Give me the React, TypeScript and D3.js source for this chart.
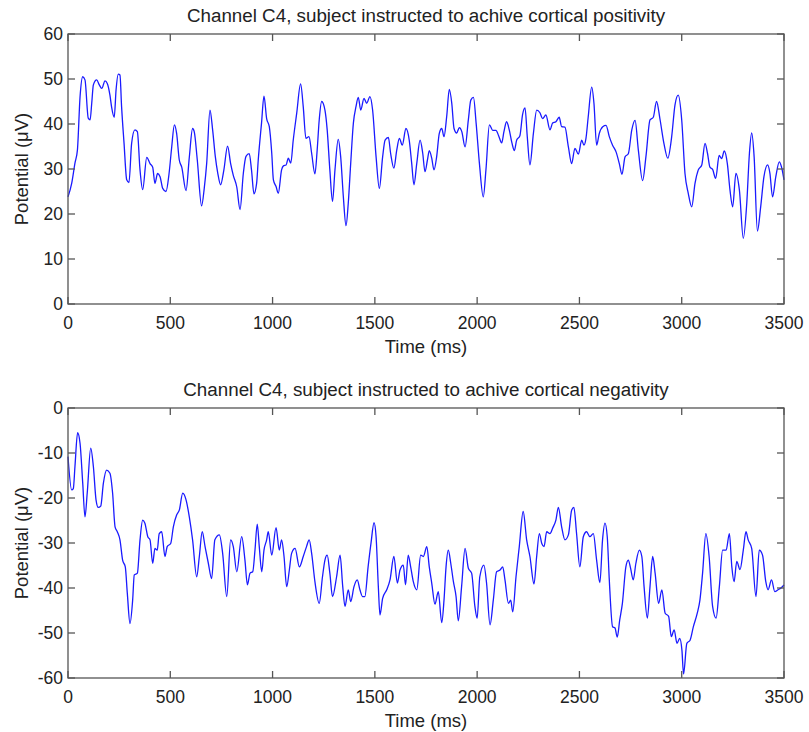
import React, { useEffect, useRef } from 'react';
import * as d3 from 'd3';

// Time stamps (ms) and potential (µV)
const posTime = [0, 18, 34, 46, 59, 72, 83, 99, 108, 116, 124, 140, 153, 165, 181, 192, 205, 213, 226, 235, 246, 254, 262, 274, 287, 298, 311, 327, 339, 352, 365, 385, 401, 414, 425, 438, 450, 463, 479, 494, 507, 520, 531, 544, 556, 577, 593, 609, 617, 632, 653, 666, 678, 694, 707, 720, 732, 746, 762, 780, 795, 808, 825, 841, 857, 870, 886, 897, 909, 922, 930, 946, 958, 971, 984, 996, 1004, 1017, 1028, 1044, 1053, 1066, 1077, 1089, 1101, 1118, 1137, 1150, 1163, 1178, 1191, 1207, 1218, 1228, 1240, 1256, 1267, 1280, 1293, 1305, 1321, 1333, 1346, 1359, 1370, 1382, 1395, 1408, 1419, 1431, 1447, 1460, 1476, 1489, 1506, 1522, 1538, 1550, 1566, 1577, 1593, 1607, 1620, 1634, 1652, 1668, 1680, 1691, 1705, 1721, 1734, 1745, 1757, 1766, 1778, 1789, 1802, 1815, 1827, 1838, 1851, 1864, 1876, 1887, 1900, 1913, 1925, 1941, 1957, 1969, 1982, 1995, 2011, 2030, 2043, 2060, 2076, 2092, 2105, 2120, 2131, 2144, 2157, 2170, 2182, 2193, 2209, 2222, 2234, 2245, 2258, 2275, 2291, 2307, 2320, 2336, 2356, 2369, 2385, 2401, 2413, 2429, 2446, 2462, 2478, 2495, 2511, 2522, 2532, 2543, 2560, 2571, 2584, 2597, 2614, 2630, 2646, 2662, 2679, 2695, 2708, 2723, 2739, 2756, 2772, 2788, 2809, 2825, 2845, 2861, 2877, 2894, 2913, 2932, 2951, 2967, 2983, 3000, 3016, 3032, 3049, 3065, 3081, 3098, 3114, 3126, 3138, 3151, 3166, 3183, 3195, 3208, 3223, 3236, 3249, 3265, 3282, 3301, 3318, 3331, 3342, 3354, 3370, 3386, 3402, 3420, 3431, 3444, 3460, 3477, 3488, 3500];
const posValue = [23.8, 26.8, 31.3, 34.2, 46.1, 50.5, 49.8, 41.3, 40.9, 44.6, 48.7, 49.8, 48.7, 47.9, 49.6, 49.0, 46.4, 43.8, 41.5, 47.6, 51.1, 50.9, 43.8, 35.7, 27.6, 27.0, 35.7, 38.7, 38.3, 29.8, 25.4, 32.6, 31.2, 30.4, 26.8, 29.0, 28.3, 25.7, 25.0, 29.0, 34.9, 39.8, 37.9, 32.0, 30.4, 25.2, 32.6, 39.0, 38.3, 32.0, 21.8, 25.7, 31.3, 43.1, 38.7, 32.8, 29.1, 26.5, 29.8, 35.1, 31.2, 28.6, 26.0, 21.0, 29.0, 32.8, 33.4, 29.8, 24.5, 26.8, 32.0, 40.2, 46.2, 41.2, 39.4, 33.5, 27.6, 26.1, 24.6, 29.8, 30.7, 30.9, 32.4, 31.3, 36.4, 42.4, 48.9, 43.8, 36.8, 37.2, 33.5, 28.9, 34.2, 40.9, 45.0, 43.1, 38.7, 29.8, 22.8, 29.8, 36.6, 32.7, 23.8, 17.4, 22.4, 31.3, 40.2, 43.9, 45.9, 43.1, 45.7, 44.6, 46.1, 43.1, 32.7, 25.7, 32.7, 36.4, 37.0, 33.5, 30.2, 34.2, 36.8, 35.3, 39.0, 36.4, 31.3, 26.5, 31.3, 36.4, 33.5, 29.4, 32.0, 34.1, 32.4, 29.8, 32.7, 37.9, 39.0, 37.2, 41.6, 47.7, 44.6, 39.0, 38.0, 39.2, 38.3, 34.9, 40.9, 45.3, 45.9, 40.2, 31.3, 23.8, 29.8, 39.8, 38.6, 38.6, 37.4, 35.8, 38.3, 40.5, 38.7, 35.8, 34.1, 36.4, 37.4, 42.1, 43.6, 37.2, 30.9, 37.9, 43.1, 42.5, 41.2, 42.0, 38.7, 40.2, 40.5, 41.5, 39.4, 39.3, 34.9, 31.2, 34.6, 33.3, 36.4, 35.3, 36.8, 41.6, 48.2, 44.6, 35.3, 37.9, 39.4, 39.7, 37.2, 35.3, 33.8, 31.2, 28.8, 32.7, 33.4, 38.7, 40.8, 34.2, 27.4, 32.7, 40.9, 41.5, 45.0, 41.0, 35.7, 32.4, 37.2, 44.2, 46.4, 40.9, 29.0, 24.6, 21.6, 26.8, 29.8, 30.9, 35.7, 33.5, 30.4, 29.9, 27.9, 33.0, 32.3, 34.0, 31.2, 25.3, 21.6, 29.0, 25.3, 14.6, 22.4, 33.5, 38.0, 32.7, 16.2, 21.6, 28.3, 30.9, 29.1, 23.8, 28.3, 31.6, 30.4, 27.6];

// Time stamps (ms) and potential (µV)
const negTime = [0, 18, 26, 34, 47, 59, 72, 83, 94, 111, 124, 137, 148, 160, 173, 189, 205, 218, 230, 241, 254, 267, 280, 290, 303, 316, 324, 339, 352, 365, 376, 390, 401, 414, 425, 436, 446, 458, 474, 485, 502, 515, 531, 544, 561, 577, 593, 609, 629, 642, 656, 670, 686, 702, 718, 740, 756, 776, 795, 808, 825, 849, 865, 877, 890, 903, 914, 925, 935, 947, 958, 971, 979, 996, 1017, 1033, 1044, 1056, 1069, 1082, 1093, 1110, 1131, 1150, 1166, 1179, 1191, 1207, 1228, 1244, 1256, 1267, 1280, 1293, 1313, 1330, 1343, 1354, 1370, 1382, 1398, 1414, 1427, 1440, 1451, 1467, 1481, 1496, 1506, 1517, 1525, 1538, 1558, 1574, 1593, 1610, 1623, 1639, 1650, 1663, 1675, 1688, 1705, 1724, 1737, 1754, 1766, 1778, 1794, 1810, 1827, 1838, 1848, 1859, 1871, 1884, 1897, 1908, 1924, 1941, 1957, 1973, 1989, 2000, 2013, 2033, 2046, 2063, 2079, 2095, 2112, 2125, 2136, 2153, 2164, 2174, 2190, 2206, 2225, 2242, 2258, 2278, 2291, 2304, 2316, 2327, 2340, 2356, 2369, 2385, 2397, 2413, 2429, 2446, 2462, 2473, 2486, 2502, 2519, 2535, 2551, 2568, 2584, 2600, 2613, 2625, 2636, 2646, 2662, 2674, 2685, 2697, 2710, 2727, 2739, 2750, 2763, 2776, 2793, 2805, 2816, 2832, 2845, 2858, 2870, 2887, 2903, 2919, 2936, 2949, 2963, 2977, 2990, 3001, 3009, 3025, 3041, 3057, 3076, 3089, 3102, 3118, 3134, 3151, 3168, 3184, 3200, 3217, 3233, 3245, 3256, 3269, 3285, 3301, 3314, 3325, 3342, 3363, 3379, 3395, 3411, 3422, 3439, 3455, 3471, 3488, 3500];
const negValue = [-10.8, -18.2, -17.9, -13.0, -5.5, -7.9, -16.7, -24.2, -18.9, -8.9, -13.0, -20.4, -22.1, -21.8, -16.7, -13.8, -14.5, -18.9, -26.4, -27.5, -29.3, -33.8, -35.3, -41.2, -47.9, -42.7, -37.1, -36.7, -29.3, -24.9, -25.6, -28.6, -29.3, -34.5, -31.2, -31.6, -27.9, -27.5, -33.0, -30.8, -30.1, -26.4, -23.8, -22.7, -18.9, -20.4, -24.2, -29.3, -37.5, -33.0, -27.5, -30.8, -34.5, -37.9, -29.3, -28.2, -32.3, -41.9, -29.3, -30.8, -36.4, -28.6, -33.8, -39.3, -36.7, -36.4, -31.6, -25.8, -30.8, -36.4, -31.6, -29.3, -27.5, -32.7, -26.6, -31.6, -29.3, -33.0, -39.7, -36.0, -32.3, -31.2, -35.3, -33.0, -30.8, -29.3, -32.3, -38.6, -43.4, -37.5, -33.8, -32.7, -36.7, -41.9, -37.5, -32.7, -39.7, -44.1, -40.4, -43.0, -39.7, -38.2, -40.4, -41.9, -41.9, -35.3, -30.1, -25.5, -28.6, -39.7, -46.0, -42.3, -40.4, -38.2, -33.0, -38.9, -36.0, -34.9, -39.3, -32.7, -35.3, -38.6, -40.4, -32.7, -33.0, -30.8, -35.3, -38.9, -43.6, -40.8, -47.7, -42.7, -35.3, -31.6, -34.5, -38.6, -41.9, -47.3, -39.7, -31.2, -35.6, -36.7, -44.1, -46.7, -37.5, -34.9, -38.9, -48.2, -42.7, -36.4, -36.0, -35.3, -38.2, -43.4, -42.7, -45.3, -37.5, -30.8, -23.0, -29.3, -33.0, -39.1, -33.0, -27.9, -30.1, -30.8, -27.5, -27.9, -26.7, -24.9, -22.1, -26.4, -29.3, -28.2, -22.7, -22.1, -27.9, -35.3, -28.6, -27.5, -28.6, -27.9, -33.8, -38.8, -29.3, -25.6, -28.6, -38.2, -48.6, -48.9, -50.9, -47.1, -43.4, -35.3, -33.8, -35.6, -38.2, -34.5, -31.6, -33.0, -39.7, -46.7, -39.7, -33.0, -36.7, -43.4, -40.4, -45.6, -46.3, -50.8, -49.3, -52.3, -51.2, -53.8, -59.1, -52.3, -51.6, -48.6, -45.6, -42.7, -36.7, -27.9, -33.0, -44.1, -46.7, -39.7, -31.6, -31.6, -27.9, -35.3, -38.6, -34.1, -35.9, -31.6, -27.5, -29.3, -31.2, -41.9, -31.6, -32.7, -38.6, -40.4, -38.2, -40.8, -40.4, -39.9, -39.3];

const xTicks = [0, 500, 1000, 1500, 2000, 2500, 3000, 3500];
const posTicks = [0, 10, 20, 30, 40, 50, 60];
const negTicks = [-60, -50, -40, -30, -20, -10, 0];

const FONT = '"Liberation Sans", Arial, sans-serif';

const App: React.FC = () => {
  const svgRef = useRef<SVGSVGElement>(null);

  useEffect(() => {
    if (!svgRef.current) return;
    const svg = d3.select(svgRef.current);
    svg.selectAll('*').remove();

    const left = 68;
    const right = 784;
    const panelH = 270;

    const drawPanel = (
      top: number,
      times: number[],
      values: number[],
      domain: [number, number],
      yTicks: number[],
      title: string
    ) => {
      const x = d3.scaleLinear().domain([0, 3500]).range([left, right]);
      const y = d3.scaleLinear().domain(domain).range([top + panelH, top]);
      const g = svg.append('g');

      // trace
      const line = d3.line<number>()
        .x((_, i) => x(times[i]))
        .y(d => y(d))
        .curve(d3.curveMonotoneX);

      g.append('path')
        .datum(values)
        .attr('d', line)
        .attr('fill', 'none')
        .attr('stroke', '#1a1aff')
        .attr('stroke-width', 1.3);

      // frame
      g.append('rect')
        .attr('x', left)
        .attr('y', top)
        .attr('width', right - left)
        .attr('height', panelH)
        .attr('fill', 'none')
        .attr('stroke', '#555')
        .attr('stroke-width', 1.3);

      const tickLen = 7;
      xTicks.forEach(t => {
        g.append('line')
          .attr('x1', x(t)).attr('x2', x(t))
          .attr('y1', top + panelH).attr('y2', top + panelH - tickLen)
          .attr('stroke', '#555').attr('stroke-width', 1.3);
        g.append('line')
          .attr('x1', x(t)).attr('x2', x(t))
          .attr('y1', top).attr('y2', top + tickLen)
          .attr('stroke', '#555').attr('stroke-width', 1.3);
        g.append('text')
          .attr('x', x(t))
          .attr('y', top + panelH + 24.5)
          .attr('text-anchor', 'middle')
          .style('font-family', FONT)
          .style('font-size', '17.5px')
          .style('fill', '#222')
          .text(t);
      });

      yTicks.forEach(t => {
        g.append('line')
          .attr('x1', left).attr('x2', left + tickLen)
          .attr('y1', y(t)).attr('y2', y(t))
          .attr('stroke', '#555').attr('stroke-width', 1.3);
        g.append('line')
          .attr('x1', right).attr('x2', right - tickLen)
          .attr('y1', y(t)).attr('y2', y(t))
          .attr('stroke', '#555').attr('stroke-width', 1.3);
        g.append('text')
          .attr('x', left - 5)
          .attr('y', y(t) + 6)
          .attr('text-anchor', 'end')
          .style('font-family', FONT)
          .style('font-size', '17.5px')
          .style('fill', '#222')
          .text(t);
      });

      g.append('text')
        .attr('x', (left + right) / 2)
        .attr('y', top - 12)
        .attr('text-anchor', 'middle')
        .style('font-family', FONT)
        .style('font-size', '18.8px')
        .style('fill', '#222')
        .text(title);

      g.append('text')
        .attr('x', (left + right) / 2)
        .attr('y', top + panelH + 49)
        .attr('text-anchor', 'middle')
        .style('font-family', FONT)
        .style('font-size', '18.5px')
        .style('fill', '#222')
        .text('Time (ms)');

      g.append('text')
        .attr('transform', `translate(28, ${top + panelH / 2}) rotate(-90)`)
        .attr('text-anchor', 'middle')
        .style('font-family', FONT)
        .style('font-size', '18.5px')
        .style('fill', '#222')
        .text('Potential (μV)');
    };

    drawPanel(34, posTime, posValue, [0, 60], posTicks,
      'Channel C4, subject instructed to achive cortical positivity');
    drawPanel(408, negTime, negValue, [-60, 0], negTicks,
      'Channel C4, subject instructed to achive cortical negativity');
  }, []);

  return (
    <div style={{ position: 'absolute', left: 0, top: 0 }}>
      <svg ref={svgRef} width={809} height={732} style={{ display: 'block', background: '#fff' }} />
    </div>
  );
};

export default App;
